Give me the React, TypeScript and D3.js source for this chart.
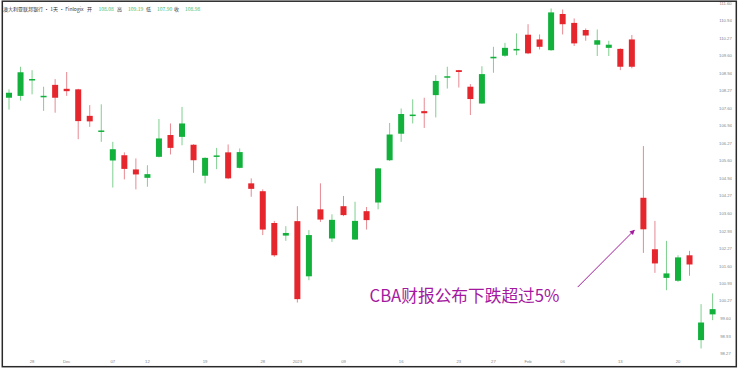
import React from "react";
import * as d3 from "d3";

const dates = [
  "2022-11-24","2022-11-25","2022-11-28","2022-11-29","2022-11-30","2022-12-01","2022-12-02",
  "2022-12-05","2022-12-06","2022-12-07","2022-12-08","2022-12-09",
  "2022-12-12","2022-12-13","2022-12-14","2022-12-15","2022-12-16",
  "2022-12-19","2022-12-20","2022-12-21","2022-12-22","2022-12-23",
  "2022-12-28","2022-12-29","2022-12-30",
  "2023-01-03","2023-01-04","2023-01-05","2023-01-06",
  "2023-01-09","2023-01-10","2023-01-11","2023-01-12","2023-01-13",
  "2023-01-16","2023-01-17","2023-01-18","2023-01-19","2023-01-20",
  "2023-01-23","2023-01-24","2023-01-25","2023-01-27",
  "2023-01-30","2023-01-31","2023-02-01","2023-02-02","2023-02-03",
  "2023-02-06","2023-02-07","2023-02-08","2023-02-09","2023-02-10",
  "2023-02-13","2023-02-14","2023-02-15","2023-02-16","2023-02-17",
  "2023-02-20","2023-02-21","2023-02-22","2023-02-23",
];

const opens = [
  108.01,108.08,108.67,108.03,108.50,108.35,108.33,107.32,106.71,105.62,
  105.82,105.28,104.96,105.76,106.59,106.52,106.22,105.04,105.76,105.93,
  105.34,104.75,104.45,103.24,102.76,103.31,101.21,103.76,102.65,103.88,
  102.61,103.69,104.02,105.63,106.64,107.32,107.50,108.11,108.78,109.06,
  108.43,107.79,109.51,109.61,109.81,110.41,110.23,109.82,111.20,110.86,
  110.59,110.03,109.91,109.87,110.23,104.20,102.24,101.15,101.04,102.01,
  98.78,99.76,
];
const highs = [
  108.33,109.19,109.06,108.43,108.72,108.99,108.35,107.73,107.76,106.33,
  105.93,105.70,105.44,107.20,107.03,107.66,106.24,105.74,106.10,106.23,
  106.08,104.94,104.52,103.32,103.12,103.88,102.97,104.75,103.57,104.27,
  104.05,103.85,105.34,107.05,107.60,107.95,108.01,108.87,109.19,109.07,
  108.53,109.21,109.95,110.10,110.46,110.81,110.42,111.41,111.37,111.03,
  110.65,110.61,110.18,109.89,110.40,106.17,103.32,102.56,102.01,102.18,
  100.15,100.56,
];
const lows = [
  107.56,107.90,108.14,107.51,107.44,108.08,106.43,106.90,106.33,104.59,
  104.90,104.52,104.62,105.74,105.85,106.20,105.15,104.75,105.29,104.91,
  105.32,104.24,102.78,101.95,102.56,100.21,101.06,103.28,102.52,103.50,
  102.60,102.99,103.76,105.60,106.33,107.03,106.86,107.26,108.36,108.40,
  107.35,107.78,108.96,109.57,109.63,109.67,109.85,109.80,110.42,109.98,
  110.18,109.60,109.60,109.06,109.13,102.10,101.34,100.68,101.00,101.23,
  98.46,99.54,
];
const closes = [
  108.20,108.98,108.72,108.08,108.01,108.26,107.12,107.11,106.76,106.05,
  105.30,105.09,105.10,106.46,106.10,107.03,105.63,105.72,105.81,104.94,
  105.94,104.54,102.99,102.01,102.86,100.34,102.78,103.37,103.36,103.54,
  103.32,103.35,105.32,106.61,107.39,107.36,107.42,108.65,108.82,108.99,
  107.96,108.91,109.57,109.91,109.87,109.70,109.95,111.26,110.81,110.08,
  110.38,110.20,110.03,109.19,109.19,103.00,101.70,101.32,101.93,101.66,
  99.45,99.96,
];

const yTickLabels = [
  "111.60","110.94","110.27","109.60","108.94","108.27","107.60","106.94",
  "106.27","105.60","104.94","104.27","103.60","102.93","102.27","101.60",
  "100.93","100.27","99.60","98.93","98.27",
];

const xTickDates = [
  "2022-11-28","2022-12-01","2022-12-07","2022-12-12","2022-12-19","2022-12-28",
  "2023-01-03","2023-01-09","2023-01-16","2023-01-23","2023-01-27","2023-02-01",
  "2023-02-06","2023-02-13","2023-02-20",
];
const xTickLabels = ["28","Dec","07","12","19","28","2023","09","16","23","27","Feb","06","13","20"];

const headerTitle = "澳大利亚联邦银行 · 1天 · Finlogix";
const headerKeys = ["开", "高", "低", "收"];
const headerVals = ["108.08", "109.19", "107.90", "108.98"];

const annotationText = "CBA财报公布下跌超过5%";
const annotationDate = "2023-02-15";

const W = 740;
const H = 371;
const UP = "#12b13c";
const DOWN = "#e5262d";
const UP_WICK = "#7fd08f";
const DOWN_WICK = "#e68a92";
const PURPLE = "#a4199f";

export default function App() {
  const x = d3.scalePoint<string>().domain(dates).range([9, 712.6]);
  const y = d3.scaleLinear().domain([98.27, 110.94]).range([353.5, 20.8]);
  const bodyW = 6;

  const candles = dates.map((d, i) => ({
    d,
    o: opens[i],
    h: highs[i],
    l: lows[i],
    c: closes[i],
  }));

  const ax = x(annotationDate)!;
  const arrowEnd = [ax - 9, y(102.97)];
  const arrowStart = [ax - 65.7, y(100.8)];

  const headerFont = "'Noto Sans CJK SC', 'Noto Sans', sans-serif";
  const keyX = [87, 117, 146, 174];
  const valX = [98.5, 128, 157, 185];

  return (
    <svg
      width={W}
      height={H}
      style={{ position: "absolute", left: 0, top: 0, background: "#fff" }}
      xmlns="http://www.w3.org/2000/svg"
    >
      <defs>
        <marker
          id="arr"
          viewBox="0 0 10 10"
          refX="9"
          refY="5"
          markerWidth="5"
          markerHeight="5"
          orient="auto"
          markerUnits="userSpaceOnUse"
        >
          <path d="M0,0 L10,5 L0,10 z" fill={PURPLE} />
        </marker>
      </defs>
      <rect x={0} y={0} width={W} height={H} fill="#fff" />

      {/* candles */}
      <g>
        {candles.map((k) => {
          const up = k.c >= k.o;
          const cx = x(k.d)!;
          const top = y(Math.max(k.o, k.c));
          const bot = y(Math.min(k.o, k.c));
          const hgt = Math.max(1.5, bot - top);
          return (
            <g key={k.d}>
              <line
                x1={cx}
                x2={cx}
                y1={y(k.h)}
                y2={y(k.l)}
                stroke={up ? UP_WICK : DOWN_WICK}
                strokeWidth={1}
              />
              <rect
                x={cx - bodyW / 2}
                y={hgt === 1.5 ? (top + bot) / 2 - 0.75 : top}
                width={bodyW}
                height={hgt}
                fill={up ? UP : DOWN}
              />
            </g>
          );
        })}
      </g>

      {/* y tick labels */}
      <g
        fontFamily="'Liberation Sans', Arial, sans-serif"
        fontSize={4.2}
        fill="#858585"
        textAnchor="middle"
      >
        {yTickLabels.map((t) => (
          <text key={t} x={725.5} y={y(+t)} dy="0.35em">
            {t}
          </text>
        ))}
      </g>

      {/* x tick labels */}
      <g
        fontFamily="'Liberation Sans', Arial, sans-serif"
        fontSize={4.2}
        fill="#858585"
        textAnchor="middle"
      >
        {xTickDates.map((d, i) => (
          <text key={d} x={x(d)!} y={362} dy="0.35em">
            {xTickLabels[i]}
          </text>
        ))}
      </g>

      {/* header */}
      <g fontFamily={headerFont} fontSize={5} dominantBaseline="middle">
        <text x={3} y={9.5} fill="#333">
          {headerTitle}
        </text>
        {headerKeys.map((k, i) => (
          <text key={k} x={keyX[i]} y={9.5} fill="#333">
            {k}
          </text>
        ))}
        {headerVals.map((v, i) => (
          <text key={v + i} x={valX[i]} y={9.5} fill="#3cb85f">
            {v}
          </text>
        ))}
      </g>

      {/* annotation */}
      <line
        x1={arrowStart[0]}
        y1={arrowStart[1]}
        x2={arrowEnd[0]}
        y2={arrowEnd[1]}
        stroke={PURPLE}
        strokeWidth={1}
        markerEnd="url(#arr)"
      />
      <text
        x={369.5}
        y={302}
        fontFamily="'Noto Sans CJK SC', sans-serif"
        fontSize={16.7}
        fill={PURPLE}
      >
        {annotationText}
      </text>

      {/* frame */}
      <rect
        x={2.3}
        y={1.2}
        width={734}
        height={365.5}
        fill="none"
        stroke="#2a2a2a"
        strokeWidth={1.5}
      />
    </svg>
  );
}
